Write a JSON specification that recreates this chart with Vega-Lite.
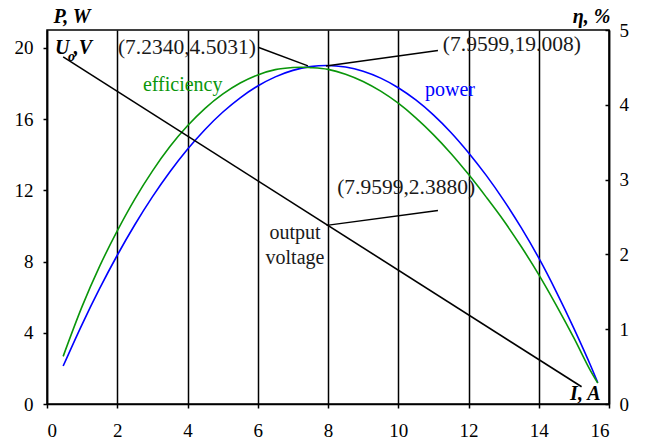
{
  "$schema": "https://vega.github.io/schema/vega-lite/v6.json",
  "width": 562,
  "height": 374,
  "autosize": {"type": "none"},
  "padding": {"left": 47, "top": 30, "right": 41, "bottom": 39},
  "background": "white",
  "config": {
    "view": {"stroke": "black", "strokeWidth": 1.5},
    "font": "'Liberation Serif', 'Times New Roman', serif",
    "axis": {
      "labelFont": "'Liberation Serif', 'Times New Roman', serif",
      "labelFontSize": 19,
      "labelColor": "black",
      "domainColor": "black",
      "domainWidth": 1.5,
      "tickColor": "black",
      "tickWidth": 1.5,
      "tickSize": 4,
      "titleFont": "'Liberation Serif', 'Times New Roman', serif",
      "titleFontSize": 20,
      "titleFontStyle": "italic",
      "titleFontWeight": "bold",
      "titleColor": "black"
    },
    "text": {"font": "'Liberation Serif', 'Times New Roman', serif", "fontSize": 20, "color": "#1a1a1a"}
  },
  "datasets": {
    "power": [
      {"x": 0.46, "y": 2.133}, {"x": 1, "y": 4.476}, {"x": 1.5, "y": 6.489}, {"x": 2, "y": 8.352},
      {"x": 2.5, "y": 10.065}, {"x": 3, "y": 11.628}, {"x": 3.5, "y": 13.041}, {"x": 4, "y": 14.304},
      {"x": 4.5, "y": 15.417}, {"x": 5, "y": 16.38}, {"x": 5.5, "y": 17.193}, {"x": 6, "y": 17.856},
      {"x": 6.5, "y": 18.369}, {"x": 7, "y": 18.732}, {"x": 7.5, "y": 18.945}, {"x": 7.96, "y": 19.008},
      {"x": 8.5, "y": 18.921}, {"x": 9, "y": 18.684}, {"x": 9.5, "y": 18.297}, {"x": 10, "y": 17.76},
      {"x": 10.5, "y": 17.073}, {"x": 11, "y": 16.236}, {"x": 11.5, "y": 15.249}, {"x": 12, "y": 14.112},
      {"x": 12.5, "y": 12.85}, {"x": 13, "y": 11.45}, {"x": 13.5, "y": 9.9}, {"x": 14, "y": 8.2},
      {"x": 14.5, "y": 6.3}, {"x": 15, "y": 4.25}, {"x": 15.5, "y": 2.05}, {"x": 15.68, "y": 1.2}
    ],
    "efficiency": [
      {"x": 0.46, "y": 0.637}, {"x": 1, "y": 1.305}, {"x": 1.5, "y": 1.843}, {"x": 2, "y": 2.314},
      {"x": 2.5, "y": 2.739}, {"x": 3, "y": 3.113}, {"x": 3.5, "y": 3.441}, {"x": 4, "y": 3.719},
      {"x": 4.5, "y": 3.953}, {"x": 5, "y": 4.142}, {"x": 5.5, "y": 4.291}, {"x": 6, "y": 4.4},
      {"x": 6.5, "y": 4.47}, {"x": 7, "y": 4.498}, {"x": 7.234, "y": 4.503}, {"x": 7.5, "y": 4.497},
      {"x": 8, "y": 4.474}, {"x": 8.5, "y": 4.41}, {"x": 9, "y": 4.312}, {"x": 9.5, "y": 4.182},
      {"x": 10, "y": 4.021}, {"x": 10.5, "y": 3.826}, {"x": 11, "y": 3.602}, {"x": 11.5, "y": 3.35},
      {"x": 12, "y": 3.07}, {"x": 12.5, "y": 2.769}, {"x": 13, "y": 2.453}, {"x": 13.5, "y": 2.105},
      {"x": 14, "y": 1.73}, {"x": 14.5, "y": 1.319}, {"x": 15, "y": 0.884}, {"x": 15.5, "y": 0.423},
      {"x": 15.68, "y": 0.28}
    ],
    "voltage": [
      {"x": 0.46, "y": 4.64}, {"x": 15.22, "y": 0.23}
    ]
  },
  "encoding": {
    "x": {
      "field": "x",
      "type": "quantitative",
      "scale": {"domain": [0, 16], "nice": false, "zero": false},
      "axis": {
        "values": [0, 2, 4, 6, 8, 10, 12, 14, 16],
        "grid": true,
        "gridColor": "black",
        "gridWidth": 1.5,
        "gridOpacity": 1,
        "labelPadding": 13,
        "title": "I, A",
        "titleX": 553,
        "titleY": -5,
        "titleAlign": "right",
        "titleBaseline": "alphabetic",
        "titleAnchor": null
      }
    }
  },
  "layer": [
    {
      "encoding": {
        "y": {
          "field": "y",
          "type": "quantitative",
          "scale": {"domain": [0, 21], "nice": false, "zero": false},
          "axis": {
            "orient": "left",
            "values": [0, 4, 8, 12, 16, 20],
            "grid": false,
            "labelPadding": 10,
            "title": "P, W",
            "titleAngle": 0,
            "titleX": 6,
            "titleY": -8,
            "titleAlign": "left",
            "titleBaseline": "alphabetic",
            "titleAnchor": null
          }
        }
      },
      "layer": [
        {
          "data": {"name": "power"},
          "mark": {"type": "line", "color": "#0000ff", "strokeWidth": 1.6, "interpolate": "monotone"}
        },
        {
          "data": {"values": [{"x": 7.94, "y": 18.98, "x2": 11.13, "y2": 19.85}]},
          "mark": {"type": "rule", "color": "black", "strokeWidth": 1.5},
          "encoding": {"x2": {"field": "x2"}, "y2": {"field": "y2"}}
        },
        {
          "data": {"values": [{"label": "(7.9599,19.008)", "x": 11.27, "y": 20.13}]},
          "mark": {"type": "text", "align": "left", "baseline": "middle", "fontSize": 21.5},
          "encoding": {"text": {"field": "label"}}
        },
        {
          "data": {"values": [{"label": "efficiency", "x": 2.73, "y": 17.89}]},
          "mark": {"type": "text", "align": "left", "baseline": "middle", "color": "#0a960a"},
          "encoding": {"text": {"field": "label"}}
        },
        {
          "data": {"values": [{"label": "power", "x": 10.76, "y": 17.61}]},
          "mark": {"type": "text", "align": "left", "baseline": "middle", "color": "#0000ff"},
          "encoding": {"text": {"field": "label"}}
        },
        {
          "data": {"values": [{"label": "output", "x": 7.06, "y": 9.59}, {"label": "voltage", "x": 7.06, "y": 8.19}]},
          "mark": {"type": "text", "align": "center", "baseline": "middle"},
          "encoding": {"text": {"field": "label"}}
        },
        {
          "data": {"values": [{"label": "U", "x": 0.23, "y": 19.63}, {"label": ",V", "x": 0.76, "y": 19.63}]},
          "mark": {"type": "text", "align": "left", "baseline": "alphabetic", "fontStyle": "italic", "fontWeight": "bold", "color": "black"},
          "encoding": {"text": {"field": "label"}}
        },
        {
          "data": {"values": [{"label": "o", "x": 0.6, "y": 19.24}]},
          "mark": {"type": "text", "align": "left", "baseline": "alphabetic", "fontStyle": "italic", "fontWeight": "bold", "fontSize": 14, "color": "black"},
          "encoding": {"text": {"field": "label"}}
        }
      ]
    },
    {
      "encoding": {
        "y": {
          "field": "y",
          "type": "quantitative",
          "scale": {"domain": [0, 5], "nice": false, "zero": false},
          "axis": {
            "orient": "right",
            "values": [0, 1, 2, 3, 4, 5],
            "grid": false,
            "tickSize": -4,
            "labelPadding": 14,
            "title": "η, %",
            "titleAngle": 0,
            "titleX": 1,
            "titleY": -8,
            "titleAlign": "right",
            "titleBaseline": "alphabetic",
            "titleAnchor": null
          }
        }
      },
      "layer": [
        {
          "data": {"name": "efficiency"},
          "mark": {"type": "line", "color": "#0a960a", "strokeWidth": 1.6, "interpolate": "monotone"}
        },
        {
          "data": {"name": "voltage"},
          "mark": {"type": "line", "color": "black", "strokeWidth": 1.6}
        },
        {
          "data": {"values": [
            {"x": 6.01, "y": 4.77, "x2": 7.43, "y2": 4.52},
            {"x": 7.96, "y": 2.388, "x2": 11.13, "y2": 2.587}
          ]},
          "mark": {"type": "rule", "color": "black", "strokeWidth": 1.5},
          "encoding": {"x2": {"field": "x2"}, "y2": {"field": "y2"}}
        },
        {
          "data": {"values": [
            {"label": "(7.2340,4.5031)", "x": 2.02, "y": 4.76},
            {"label": "(7.9599,2.3880)", "x": 8.26, "y": 2.893}
          ]},
          "mark": {"type": "text", "align": "left", "baseline": "middle", "fontSize": 21.5},
          "encoding": {"text": {"field": "label"}}
        }
      ]
    }
  ],
  "resolve": {"scale": {"y": "independent"}}
}
